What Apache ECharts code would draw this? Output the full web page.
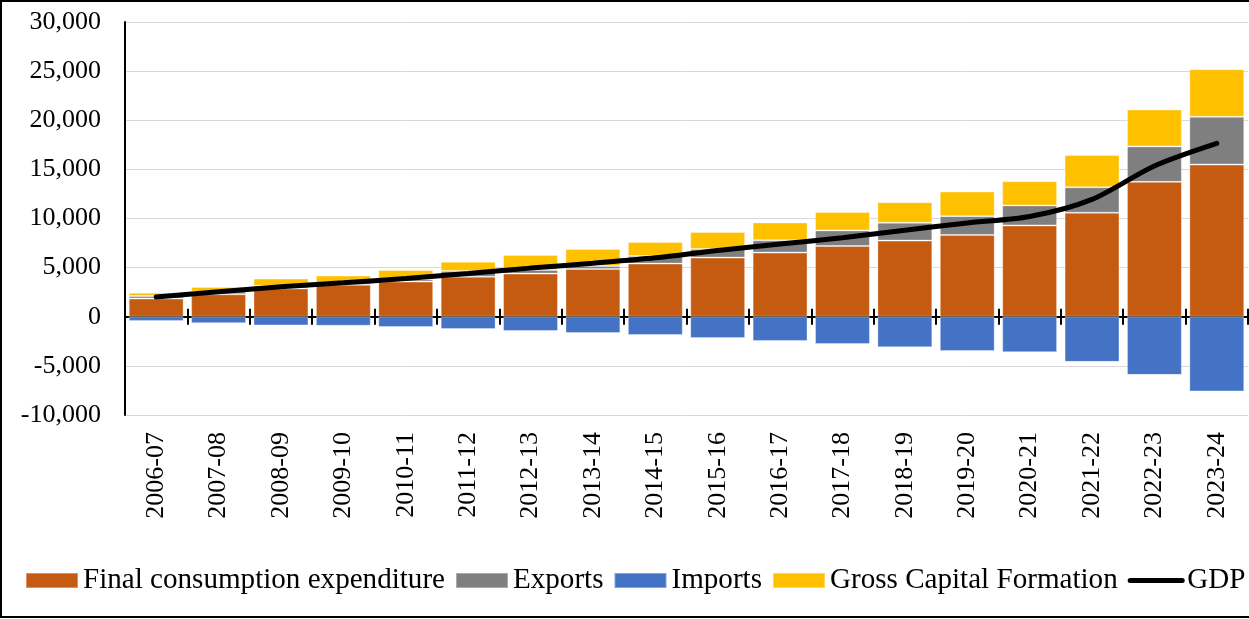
<!DOCTYPE html>
<html>
<head>
<meta charset="utf-8">
<script src="https://cdn.jsdelivr.net/npm/echarts@6/dist/echarts.min.js"></script>
<style>
  html, body { margin: 0; padding: 0; background: #fff; }
  #chart { width: 1249px; height: 619px; }
</style>
</head>
<body>
<div id="chart"></div>
<script>
const categories = ['2006-07','2007-08','2008-09','2009-10','2010-11','2011-12','2012-13','2013-14','2014-15','2015-16','2016-17','2017-18','2018-19','2019-20','2020-21','2021-22','2022-23','2023-24'];
const consumption = [1850, 2290, 2880, 3250, 3580, 4080, 4390, 4870, 5410, 6020, 6530, 7200, 7750, 8330, 9300, 10590, 13730, 15490];
const exportsData = [250, 270, 270, 230, 240, 580, 370, 300, 780, 880, 1250, 1590, 1820, 1910, 2030, 2590, 3610, 4860];
const imports = [-420, -650, -880, -910, -1050, -1250, -1450, -1660, -1860, -2160, -2460, -2770, -3110, -3480, -3610, -4590, -5910, -7600];
const gcf = [340, 480, 740, 710, 940, 950, 1530, 1730, 1420, 1720, 1820, 1860, 2090, 2510, 2460, 3290, 3760, 4840];
const gdp = [2000, 2550, 3050, 3450, 3900, 4400, 4950, 5450, 6000, 6750, 7400, 8050, 8800, 9550, 10200, 11950, 15350, 17650];
const seriesNames = ['Final consumption expenditure', 'Exports', 'Imports', 'Gross Capital Formation', 'GDP'];
const yTicks = { min: -10000, max: 30000, interval: 5000 };

const FONT = 'Liberation Serif, Times New Roman, serif';
const chart = echarts.init(document.getElementById('chart'));

const barStyle = (color) => ({ color: color, borderColor: 'rgba(255,255,255,0.35)', borderWidth: 1 });

chart.setOption({
  animation: false,
  backgroundColor: '#fff',
  graphic: [{
    type: 'rect',
    shape: { x: 1, y: 1, width: 1270, height: 616 },
    style: { fill: 'none', stroke: '#000', lineWidth: 2 },
    silent: true,
    z: 100
  }],
  grid: { left: 125, right: 1, top: 22, height: 393 },
  legend: {
    data: [
      { name: seriesNames[0], icon: 'rect' },
      { name: seriesNames[1], icon: 'rect' },
      { name: seriesNames[2], icon: 'rect' },
      { name: seriesNames[3], icon: 'rect' },
      { name: seriesNames[4],
        itemStyle: { color: 'rgba(0,0,0,0)', borderColor: 'rgba(0,0,0,0)', borderWidth: 0 },
        lineStyle: { color: '#000', width: 5 } }
    ],
    left: 25,
    top: 566,
    width: 1300,
    padding: 0,
    itemWidth: 52,
    itemHeight: 15,
    itemGap: 10,
    textStyle: { fontFamily: FONT, fontSize: 29.1, color: '#000' },
    selectedMode: false
  },
  xAxis: [
    {
      type: 'category', data: categories, position: 'bottom',
      axisLine: { show: false, onZero: false },
      axisTick: { show: false },
      axisLabel: { rotate: 90, interval: 0, fontFamily: FONT, fontSize: 26, color: '#000', margin: 17 },
      splitLine: { show: false }
    },
    {
      type: 'category', data: categories, position: 'bottom',
      axisLine: { show: true, onZero: true, onZeroAxisIndex: 0, lineStyle: { color: '#000', width: 2 } },
      axisTick: { show: true, length: 8, lineStyle: { color: '#000', width: 2 } },
      axisLabel: { show: false },
      splitLine: { show: false }
    },
    {
      type: 'category', data: categories, position: 'bottom',
      axisLine: { show: false, onZero: true, onZeroAxisIndex: 0 },
      axisTick: { show: true, inside: true, length: 8, lineStyle: { color: '#000', width: 2 } },
      axisLabel: { show: false },
      splitLine: { show: false }
    }
  ],
  yAxis: {
    type: 'value',
    min: yTicks.min, max: yTicks.max, interval: yTicks.interval,
    axisLine: { show: true, onZero: false, lineStyle: { color: '#000', width: 2 } },
    axisTick: { show: false },
    splitLine: { show: true, lineStyle: { color: '#d9d9d9', width: 1 } },
    axisLabel: {
      fontFamily: FONT, fontSize: 26, color: '#000', margin: 24,
      formatter: (v) => v.toLocaleString('en-US')
    }
  },
  series: [
    { name: seriesNames[0], type: 'bar', stack: 'a', data: consumption, barCategoryGap: '12%', itemStyle: barStyle('#C55A11'), xAxisIndex: 0 },
    { name: seriesNames[1], type: 'bar', stack: 'a', data: exportsData, itemStyle: barStyle('#7F7F7F'), xAxisIndex: 0 },
    { name: seriesNames[2], type: 'bar', stack: 'a', data: imports, itemStyle: barStyle('#4472C4'), xAxisIndex: 0 },
    { name: seriesNames[3], type: 'bar', stack: 'a', data: gcf, itemStyle: barStyle('#FFC000'), xAxisIndex: 0 },
    { name: seriesNames[4], type: 'line', data: gdp, xAxisIndex: 0, symbol: 'none', smooth: 0.3,
      lineStyle: { color: '#000', width: 5, cap: 'round' }, itemStyle: { color: '#000' }, z: 10 }
  ]
});
</script>
</body>
</html>
